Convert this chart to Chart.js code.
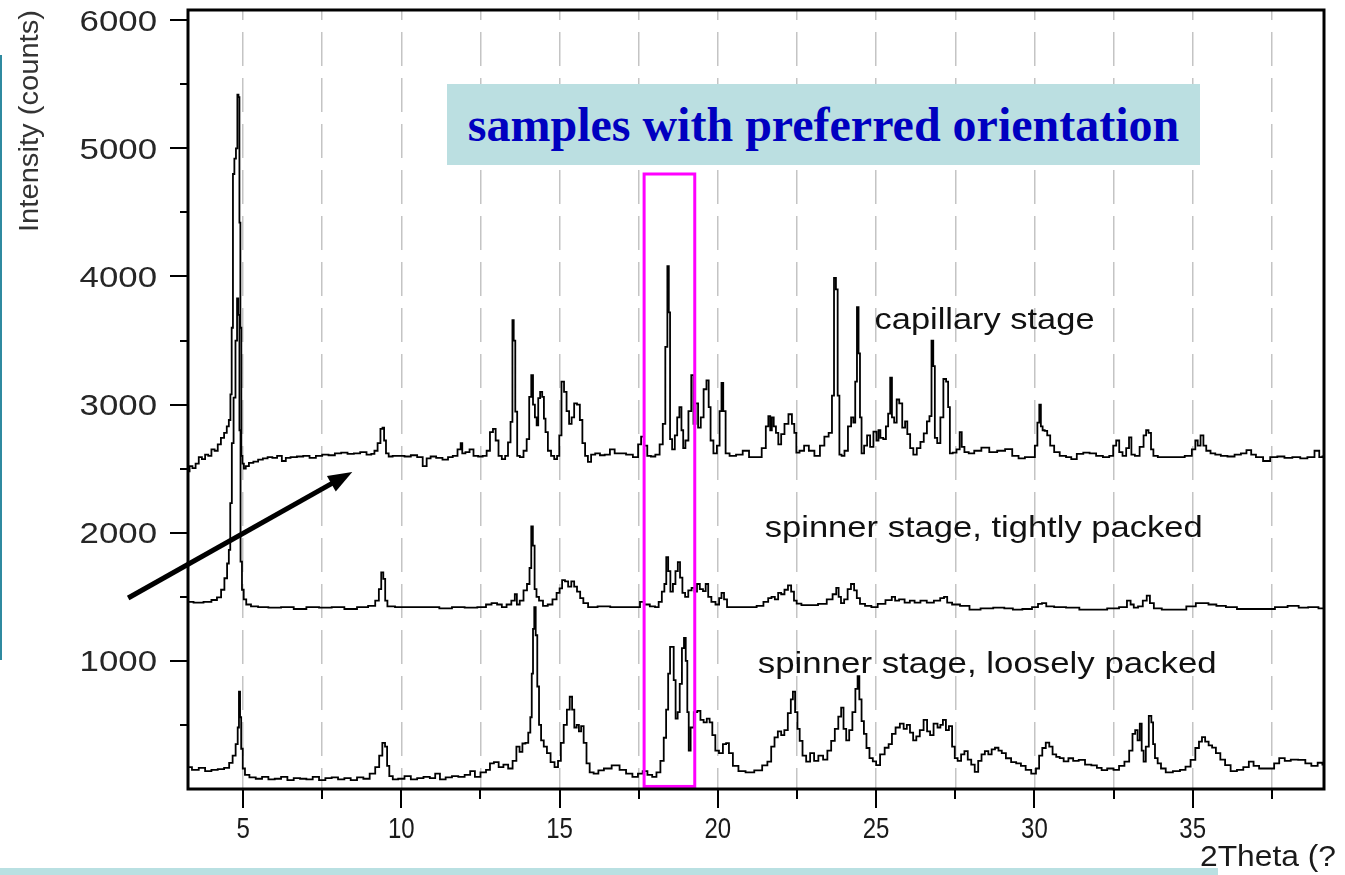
<!DOCTYPE html>
<html>
<head>
<meta charset="utf-8">
<script src="https://cdn.jsdelivr.net/npm/chart.js@4.4.1/dist/chart.umd.min.js"></script>
<style>
  body { margin: 0; background: #fff; }
  #wrap { position: relative; width: 1345px; height: 875px; overflow: hidden; }
  #c { position: absolute; left: 0; top: 0; }
  #note {
    position: absolute; left: 447px; top: 84px; width: 753px; height: 81px;
    background: #bbdfe1; color: #0000c0; text-align: center;
    font: bold 48px "Liberation Serif", "Times New Roman", serif; line-height: 81px;
  }
  #edge { position: absolute; left: 0; top: 55px; width: 2px; height: 605px; background: #2f8aa0; }
  #foot { position: absolute; left: 0; top: 868px; width: 1218px; height: 7px; background: #b9e0e2; }
</style>
</head>
<body>
<div id="wrap">
  <canvas id="c" width="1345" height="875"></canvas>
  <div id="note">samples with preferred orientation</div>
  <div id="edge"></div>
  <div id="foot"></div>
</div>
<script>
// XRD patterns, 2Theta (deg) vs intensity (counts)

const capillary = [
  [3.27,2480],[3.35,2520],[3.45,2505],[3.55,2540],[3.65,2590],[3.75,2575],[3.85,2610],[3.95,2600],
  [4.05,2650],[4.15,2640],[4.25,2690],[4.35,2740],[4.45,2780],[4.52,2830],[4.58,2880],[4.62,3080],
  [4.66,3600],[4.70,4800],[4.75,4920],[4.80,5000],[4.84,5420],[4.87,5400],[4.90,4420],[4.93,3600],
  [4.96,2600],[5.00,2540],[5.05,2500],[5.12,2520],[5.25,2545],[5.40,2555],[5.55,2570],[5.70,2580],
  [5.85,2590],[6.00,2585],[6.15,2600],[6.30,2560],[6.40,2585],[6.60,2590],[6.80,2595],[7.00,2600],
  [7.20,2585],[7.40,2600],[7.60,2610],[7.80,2605],[8.00,2620],[8.20,2625],[8.40,2615],[8.60,2620],
  [8.80,2630],[9.00,2610],[9.10,2615],[9.20,2640],[9.30,2700],[9.38,2810],[9.43,2820],[9.48,2720],
  [9.55,2620],[9.65,2595],[9.80,2600],[10.00,2600],[10.20,2595],[10.40,2605],[10.60,2590],[10.75,2520],
  [10.85,2580],[11.00,2595],[11.20,2585],[11.40,2570],[11.55,2590],[11.70,2600],[11.85,2650],[11.90,2700],
  [11.95,2620],[12.10,2630],[12.21,2650],[12.35,2600],[12.50,2595],[12.64,2600],[12.75,2640],[12.85,2785],
  [12.94,2810],[13.02,2720],[13.12,2600],[13.23,2575],[13.33,2600],[13.41,2705],[13.49,2865],[13.53,3660],
  [13.57,3500],[13.63,2945],[13.69,2600],[13.80,2590],[13.92,2640],[14.00,2730],[14.08,3060],[14.13,3230],
  [14.19,3000],[14.25,2900],[14.30,2838],[14.35,3050],[14.42,3100],[14.48,3060],[14.53,2890],[14.58,2785],
  [14.68,2640],[14.78,2600],[14.88,2575],[14.96,2600],[15.02,2760],[15.10,3180],[15.18,3100],[15.26,2950],
  [15.34,2850],[15.42,2900],[15.50,3010],[15.60,3000],[15.68,2880],[15.76,2700],[15.85,2600],[15.94,2553],
  [16.05,2610],[16.20,2620],[16.35,2605],[16.50,2610],[16.68,2650],[16.80,2620],[17.00,2620],[17.20,2610],
  [17.43,2590],[17.53,2690],[17.62,2750],[17.72,2680],[17.82,2600],[17.95,2595],[18.10,2610],[18.22,2690],
  [18.30,2850],[18.38,3450],[18.43,4080],[18.47,3720],[18.51,2730],[18.60,2650],[18.68,2760],[18.75,2900],
  [18.82,2980],[18.88,2800],[18.93,2660],[19.02,2720],[19.12,2950],[19.20,3230],[19.26,2850],[19.33,3010],
  [19.42,2820],[19.50,2900],[19.60,3120],[19.68,3190],[19.74,2980],[19.80,2720],[19.92,2620],[20.02,2680],
  [20.09,2950],[20.14,3170],[20.20,2950],[20.29,2620],[20.45,2600],[20.70,2610],[20.87,2640],[21.10,2590],
  [21.30,2590],[21.47,2660],[21.56,2830],[21.63,2910],[21.68,2800],[21.73,2900],[21.80,2830],[21.87,2780],
  [21.95,2690],[22.05,2770],[22.16,2850],[22.30,2925],[22.38,2850],[22.45,2780],[22.51,2625],[22.65,2640],
  [22.80,2680],[22.95,2640],[23.15,2600],[23.30,2680],[23.43,2750],[23.57,2780],[23.64,3070],[23.70,3990],
  [23.76,3900],[23.81,3070],[23.87,2610],[23.95,2600],[24.05,2640],[24.17,2830],[24.25,2900],[24.31,2860],
  [24.37,3180],[24.42,3760],[24.47,3400],[24.51,2900],[24.57,2620],[24.67,2680],[24.76,2760],[24.86,2670],
  [24.97,2790],[25.05,2720],[25.10,2800],[25.17,2740],[25.28,2730],[25.34,2830],[25.42,2930],[25.47,3210],
  [25.53,2900],[25.61,2860],[25.69,3040],[25.77,3010],[25.88,2820],[25.95,2870],[26.02,2770],[26.13,2660],
  [26.22,2610],[26.35,2660],[26.45,2710],[26.56,2775],[26.65,2870],[26.72,2910],[26.78,3500],[26.83,3300],
  [26.88,2740],[26.98,2700],[27.08,2900],[27.17,3200],[27.25,3180],[27.30,2980],[27.36,2620],[27.48,2625],
  [27.60,2650],[27.68,2785],[27.73,2670],[27.85,2630],[28.00,2620],[28.20,2640],[28.45,2665],[28.70,2630],
  [28.95,2640],[29.20,2652],[29.40,2600],[29.60,2580],[29.80,2590],[29.97,2590],[30.06,2680],[30.13,2860],
  [30.18,3000],[30.23,2830],[30.29,2800],[30.36,2795],[30.45,2760],[30.55,2680],[30.70,2630],[30.90,2600],
  [31.10,2590],[31.23,2575],[31.45,2615],[31.64,2625],[31.85,2620],[32.05,2600],[32.28,2590],[32.45,2600],
  [32.53,2680],[32.64,2720],[32.72,2630],[32.85,2600],[32.95,2660],[33.03,2745],[33.10,2610],[33.25,2600],
  [33.40,2670],[33.50,2760],[33.56,2800],[33.65,2780],[33.72,2650],[33.80,2600],[34.00,2590],[34.30,2590],
  [34.60,2590],[34.90,2600],[35.05,2650],[35.12,2720],[35.20,2680],[35.30,2760],[35.38,2680],[35.48,2640],
  [35.65,2620],[35.78,2610],[36.00,2600],[36.20,2595],[36.45,2610],[36.60,2620],[36.80,2645],[36.90,2610],
  [37.10,2590],[37.35,2560],[37.55,2590],[37.80,2595],[38.00,2585],[38.30,2590],[38.50,2580],[38.75,2590],
  [38.95,2640],[39.05,2590],[39.15,2595]
];

const tightlyPacked = [
  [3.27,1460],[3.60,1455],[3.90,1460],[4.10,1475],[4.25,1496],[4.36,1555],[4.46,1645],[4.53,1760],
  [4.57,1866],[4.62,2232],[4.67,2700],[4.73,3054],[4.79,3500],[4.83,3830],[4.87,3700],[4.90,2800],
  [4.94,1774],[4.99,1555],[5.05,1480],[5.15,1440],[5.35,1425],[5.60,1420],[6.00,1415],[6.40,1420],
  [6.80,1405],[7.20,1420],[7.60,1415],[8.00,1420],[8.40,1405],[8.80,1420],[9.10,1430],[9.25,1470],
  [9.33,1560],[9.40,1690],[9.46,1640],[9.52,1470],[9.60,1425],[10.00,1420],[10.50,1420],[11.00,1420],
  [11.40,1410],[11.80,1420],[12.20,1415],[12.60,1420],[12.75,1440],[12.95,1450],[13.10,1440],[13.25,1420],
  [13.40,1440],[13.55,1470],[13.62,1520],[13.68,1440],[13.80,1470],[13.92,1550],[14.02,1600],[14.08,1725],
  [14.13,2050],[14.18,1900],[14.24,1560],[14.30,1500],[14.40,1470],[14.55,1430],[14.70,1440],[14.85,1480],
  [14.96,1530],[15.04,1566],[15.12,1630],[15.22,1620],[15.32,1580],[15.42,1620],[15.50,1580],[15.60,1540],
  [15.70,1490],[15.80,1450],[16.00,1420],[16.40,1425],[16.80,1420],[17.20,1420],[17.48,1420],[17.60,1460],
  [17.75,1440],[17.95,1425],[18.08,1420],[18.18,1460],[18.28,1540],[18.34,1600],[18.40,1810],[18.46,1700],
  [18.54,1540],[18.62,1600],[18.70,1700],[18.77,1770],[18.84,1650],[18.92,1530],[19.01,1500],[19.12,1550],
  [19.22,1570],[19.30,1540],[19.38,1600],[19.48,1560],[19.58,1545],[19.65,1600],[19.74,1500],[19.85,1460],
  [20.00,1440],[20.08,1490],[20.15,1530],[20.24,1480],[20.34,1420],[20.70,1420],[21.10,1420],[21.35,1430],
  [21.53,1460],[21.65,1490],[21.74,1500],[21.86,1480],[21.95,1530],[22.05,1520],[22.16,1555],[22.27,1590],
  [22.36,1540],[22.45,1470],[22.53,1447],[22.75,1435],[23.00,1435],[23.33,1445],[23.55,1480],[23.70,1520],
  [23.78,1570],[23.85,1500],[23.93,1450],[24.05,1480],[24.15,1560],[24.26,1600],[24.35,1550],[24.43,1490],
  [24.55,1445],[24.75,1430],[24.95,1420],[25.15,1445],[25.44,1474],[25.55,1500],[25.65,1470],[25.80,1480],
  [26.00,1455],[26.13,1470],[26.30,1455],[26.50,1470],[26.70,1455],[26.95,1470],[27.10,1490],[27.19,1500],
  [27.30,1455],[27.50,1440],[27.80,1430],[28.10,1400],[28.50,1410],[28.90,1415],[29.20,1410],[29.44,1400],
  [29.80,1405],[30.05,1420],[30.18,1445],[30.30,1450],[30.45,1425],[30.80,1420],[31.20,1415],[31.64,1400],
  [32.10,1400],[32.50,1410],[32.85,1420],[33.00,1470],[33.08,1440],[33.20,1415],[33.35,1425],[33.50,1470],
  [33.60,1510],[33.70,1450],[33.85,1410],[34.20,1400],[34.60,1400],[35.00,1425],[35.20,1450],[35.40,1450],
  [35.60,1440],[35.90,1430],[36.20,1420],[36.60,1405],[37.00,1405],[37.40,1405],[37.80,1420],[38.20,1430],
  [38.50,1415],[38.80,1420],[39.15,1410]
];

const looselyPacked = [
  [3.27,170],[3.50,150],[3.70,165],[3.90,140],[4.10,150],[4.30,155],[4.50,165],[4.62,204],
  [4.72,260],[4.81,351],[4.85,480],[4.89,760],[4.92,560],[4.96,314],[5.02,160],[5.10,110],
  [5.30,90],[5.50,80],[5.70,95],[5.90,75],[6.10,80],[6.30,95],[6.50,70],[6.70,85],
  [6.90,80],[7.10,75],[7.30,95],[7.50,70],[7.70,85],[7.90,90],[8.10,75],[8.30,85],
  [8.50,70],[8.70,90],[8.90,80],[9.10,120],[9.25,170],[9.35,260],[9.45,360],[9.52,330],
  [9.58,180],[9.66,100],[9.80,75],[10.00,80],[10.20,100],[10.40,75],[10.60,85],[10.80,95],
  [11.00,85],[11.14,120],[11.30,75],[11.50,90],[11.70,100],[11.90,95],[12.10,110],[12.25,140],
  [12.40,95],[12.60,130],[12.75,150],[12.85,200],[13.00,210],[13.15,170],[13.30,190],[13.45,160],
  [13.58,220],[13.69,330],[13.78,290],[13.87,355],[13.97,360],[14.05,440],[14.10,560],[14.14,900],
  [14.18,1250],[14.22,1420],[14.27,1200],[14.32,800],[14.38,500],[14.45,380],[14.55,330],[14.65,280],
  [14.78,210],[14.90,170],[15.00,220],[15.08,360],[15.18,500],[15.28,620],[15.36,720],[15.43,620],
  [15.50,480],[15.58,500],[15.64,450],[15.72,490],[15.80,360],[15.90,200],[16.00,130],[16.15,120],
  [16.30,145],[16.50,160],[16.79,185],[17.00,150],[17.20,120],[17.40,95],[17.55,120],[17.70,140],
  [17.85,110],[18.00,95],[18.12,130],[18.25,220],[18.33,400],[18.40,620],[18.46,900],[18.52,1110],
  [18.58,1110],[18.63,850],[18.70,550],[18.76,600],[18.83,820],[18.90,1100],[18.96,1180],[19.01,1000],
  [19.06,600],[19.10,300],[19.18,480],[19.30,600],[19.40,610],[19.50,540],[19.60,520],[19.70,550],
  [19.78,520],[19.87,420],[19.97,300],[20.10,280],[20.22,350],[20.30,358],[20.40,280],[20.55,180],
  [20.75,140],[21.00,130],[21.30,145],[21.50,185],[21.63,214],[21.74,330],[21.84,403],[21.95,450],
  [22.05,420],[22.15,460],[22.27,592],[22.34,700],[22.40,760],[22.48,600],[22.55,470],[22.62,376],
  [22.73,260],[22.85,214],[22.98,280],[23.10,220],[23.25,260],[23.40,230],[23.52,300],[23.64,376],
  [23.75,470],[23.86,565],[23.93,635],[24.01,470],[24.10,380],[24.20,460],[24.30,600],[24.39,781],
  [24.44,880],[24.50,700],[24.58,530],[24.65,430],[24.74,320],[24.84,241],[24.95,215],[25.05,187],
  [25.20,270],[25.34,322],[25.45,350],[25.55,430],[25.68,480],[25.82,511],[25.92,470],[26.02,500],
  [26.12,440],[26.22,380],[26.32,410],[26.44,460],[26.56,540],[26.66,450],[26.75,420],[26.88,510],
  [27.00,480],[27.06,500],[27.16,540],[27.25,460],[27.35,490],[27.45,330],[27.52,241],[27.63,220],
  [27.74,270],[27.84,295],[27.95,230],[28.06,190],[28.17,133],[28.28,220],[28.38,270],[28.49,295],
  [28.60,270],[28.70,310],[28.81,322],[28.92,300],[29.02,280],[29.18,240],[29.35,210],[29.50,200],
  [29.65,180],[29.80,150],[30.00,120],[30.10,160],[30.20,260],[30.30,320],[30.42,362],[30.52,330],
  [30.63,270],[30.75,250],[30.85,241],[31.00,215],[31.15,240],[31.30,220],[31.50,228],[31.70,190],
  [31.90,185],[32.05,165],[32.20,147],[32.40,160],[32.60,150],[32.75,180],[32.94,214],[33.05,300],
  [33.15,430],[33.22,460],[33.30,380],[33.36,511],[33.42,300],[33.48,214],[33.56,330],[33.67,570],
  [33.72,520],[33.78,350],[33.84,241],[33.95,200],[34.05,160],[34.25,130],[34.50,140],[34.70,150],
  [34.85,175],[35.02,228],[35.15,320],[35.25,370],[35.34,405],[35.45,370],[35.56,340],[35.67,323],
  [35.80,280],[35.95,230],[36.10,187],[36.30,140],[36.50,150],[36.70,170],[36.85,214],[37.00,180],
  [37.20,160],[37.50,160],[37.65,200],[37.82,241],[38.00,220],[38.20,230],[38.47,228],[38.65,200],
  [38.85,180],[39.05,205],[39.15,190]
];

// axis ranges and ticks
const xRange = [3.26, 39.15];
const yRange = [0, 6080];
const xTicks = [5, 7.5, 10, 12.5, 15, 17.5, 20, 22.5, 25, 27.5, 30, 32.5, 35, 37.5];
const xLabels = [5, 10, 15, 20, 25, 30, 35];
const yTicks = [500, 1000, 1500, 2000, 2500, 3000, 3500, 4000, 4500, 5000, 5500, 6000];
const yLabels = [1000, 2000, 3000, 4000, 5000, 6000];

// annotations, in data units
const highlightX = [17.67, 19.27];
const highlightY = [20, 4800];
const arrowFrom = [1.37, 1491];
const arrowTo = [8.45, 2474];
const seriesNotes = [
  { text: 'capillary stage', x: 24.95, y: 3590, width: 220 },
  { text: 'spinner stage, tightly packed', x: 21.48, y: 1967, width: 438 },
  { text: 'spinner stage, loosely packed', x: 21.26, y: 905, width: 459 }
];

const toPoints = arr => arr.map(p => ({ x: p[0], y: p[1] }));

// text with an optional horizontal stretch so widths match the picture
function drawText(ctx, text, x, y, o) {
    ctx.save();
    ctx.font = o.font;
    ctx.fillStyle = o.color || '#000';
    ctx.textAlign = o.align || 'left';
    ctx.textBaseline = o.baseline || 'alphabetic';
    let sx = o.sx || 1;
    if (o.width) sx = o.width / ctx.measureText(text).width;
    ctx.translate(x, y);
    if (o.rotate) ctx.rotate(o.rotate);
    ctx.scale(sx, 1);
    ctx.fillText(text, 0, 0);
    ctx.restore();
}

const decor = {
    id: 'decor',
    afterDatasetsDraw(chart) {
        const { ctx, chartArea: a, scales: { x, y } } = chart;
        ctx.save();

        // magenta highlight box
        const bx1 = x.getPixelForValue(highlightX[0]);
        const bx2 = x.getPixelForValue(highlightX[1]);
        const by1 = y.getPixelForValue(highlightY[1]);
        const by2 = y.getPixelForValue(highlightY[0]);
        ctx.strokeStyle = '#ff00ff';
        ctx.lineWidth = 3;
        ctx.strokeRect(bx1, by1, bx2 - bx1, by2 - by1);

        // plot frame
        ctx.strokeStyle = '#000';
        ctx.lineWidth = 3;
        ctx.strokeRect(a.left, a.top, a.right - a.left, a.bottom - a.top);

        // tick marks
        ctx.lineWidth = 2;
        ctx.beginPath();
        yTicks.forEach(v => {
            const py = Math.round(y.getPixelForValue(v));
            const len = v % 1000 === 0 ? 18 : 8;
            ctx.moveTo(a.left - len, py);
            ctx.lineTo(a.left, py);
        });
        xTicks.forEach(v => {
            const px = Math.round(x.getPixelForValue(v));
            const len = v % 5 === 0 ? 19 : 10;
            ctx.moveTo(px, a.bottom);
            ctx.lineTo(px, a.bottom + len);
        });
        ctx.stroke();

        // tick labels
        yLabels.forEach(v => {
            drawText(ctx, String(v), a.left - 31, y.getPixelForValue(v) + 10.5,
                { font: '29px "Liberation Sans", Arial, sans-serif', color: '#262626', align: 'right', sx: 1.2 });
        });
        xLabels.forEach(v => {
            drawText(ctx, String(v), x.getPixelForValue(v), a.bottom + 49,
                { font: '30px "Liberation Sans", Arial, sans-serif', color: '#1a1a1a', align: 'center', sx: 0.8 });
        });

        // axis titles
        drawText(ctx, 'Intensity (counts)', 31, 121,
            { font: '27px "Liberation Sans", Arial, sans-serif', color: '#333', align: 'center',
              baseline: 'middle', rotate: -Math.PI / 2, width: 222 });
        drawText(ctx, '2Theta (?', 1336, 866,
            { font: '30px "Liberation Sans", Arial, sans-serif', color: '#1a1a1a', align: 'right', width: 136 });

        // series notes
        seriesNotes.forEach(n => {
            drawText(ctx, n.text, x.getPixelForValue(n.x), y.getPixelForValue(n.y),
                { font: '29px "Liberation Sans", Arial, sans-serif', color: '#111', width: n.width });
        });

        // arrow
        const x1 = x.getPixelForValue(arrowFrom[0]), y1 = y.getPixelForValue(arrowFrom[1]);
        const x2 = x.getPixelForValue(arrowTo[0]), y2 = y.getPixelForValue(arrowTo[1]);
        const ang = Math.atan2(y2 - y1, x2 - x1);
        const hl = 24, hw = 9;
        const c = Math.cos(ang), s = Math.sin(ang);
        ctx.strokeStyle = '#000';
        ctx.fillStyle = '#000';
        ctx.lineWidth = 5;
        ctx.beginPath();
        ctx.moveTo(x1, y1);
        ctx.lineTo(x2 - hl * 0.8 * c, y2 - hl * 0.8 * s);
        ctx.stroke();
        ctx.beginPath();
        ctx.moveTo(x2, y2);
        ctx.lineTo(x2 - hl * c + hw * s, y2 - hl * s - hw * c);
        ctx.lineTo(x2 - hl * c - hw * s, y2 - hl * s + hw * c);
        ctx.closePath();
        ctx.fill();

        ctx.restore();
    }
};

const lineStyle = {
    borderColor: '#000',
    borderWidth: 1.8,
    pointRadius: 0,
    stepped: 'middle',
    fill: false
};

new Chart(document.getElementById('c'), {
    type: 'line',
    data: {
        datasets: [
            { label: 'capillary stage', data: toPoints(capillary), ...lineStyle },
            { label: 'spinner stage, tightly packed', data: toPoints(tightlyPacked), ...lineStyle },
            { label: 'spinner stage, loosely packed', data: toPoints(looselyPacked), ...lineStyle }
        ]
    },
    options: {
        responsive: false,
        animation: false,
        layout: { padding: { top: 10, right: 21, left: 0, bottom: 0 } },
        plugins: {
            legend: { display: false },
            tooltip: { enabled: false }
        },
        scales: {
            x: {
                type: 'linear',
                min: xRange[0],
                max: xRange[1],
                afterBuildTicks: s => { s.ticks = xTicks.map(v => ({ value: v })); },
                afterFit: s => { s.height = 86; },
                ticks: { display: false },
                grid: { color: '#c4c4c4', lineWidth: 1.5, drawTicks: false },
                border: { display: false, dash: [34, 12], dashOffset: 24 }
            },
            y: {
                type: 'linear',
                min: yRange[0],
                max: yRange[1],
                afterFit: s => { s.width = 188; },
                ticks: { display: false },
                grid: { display: false, drawTicks: false },
                border: { display: false }
            }
        }
    },
    plugins: [decor]
});
</script>
</body>
</html>
